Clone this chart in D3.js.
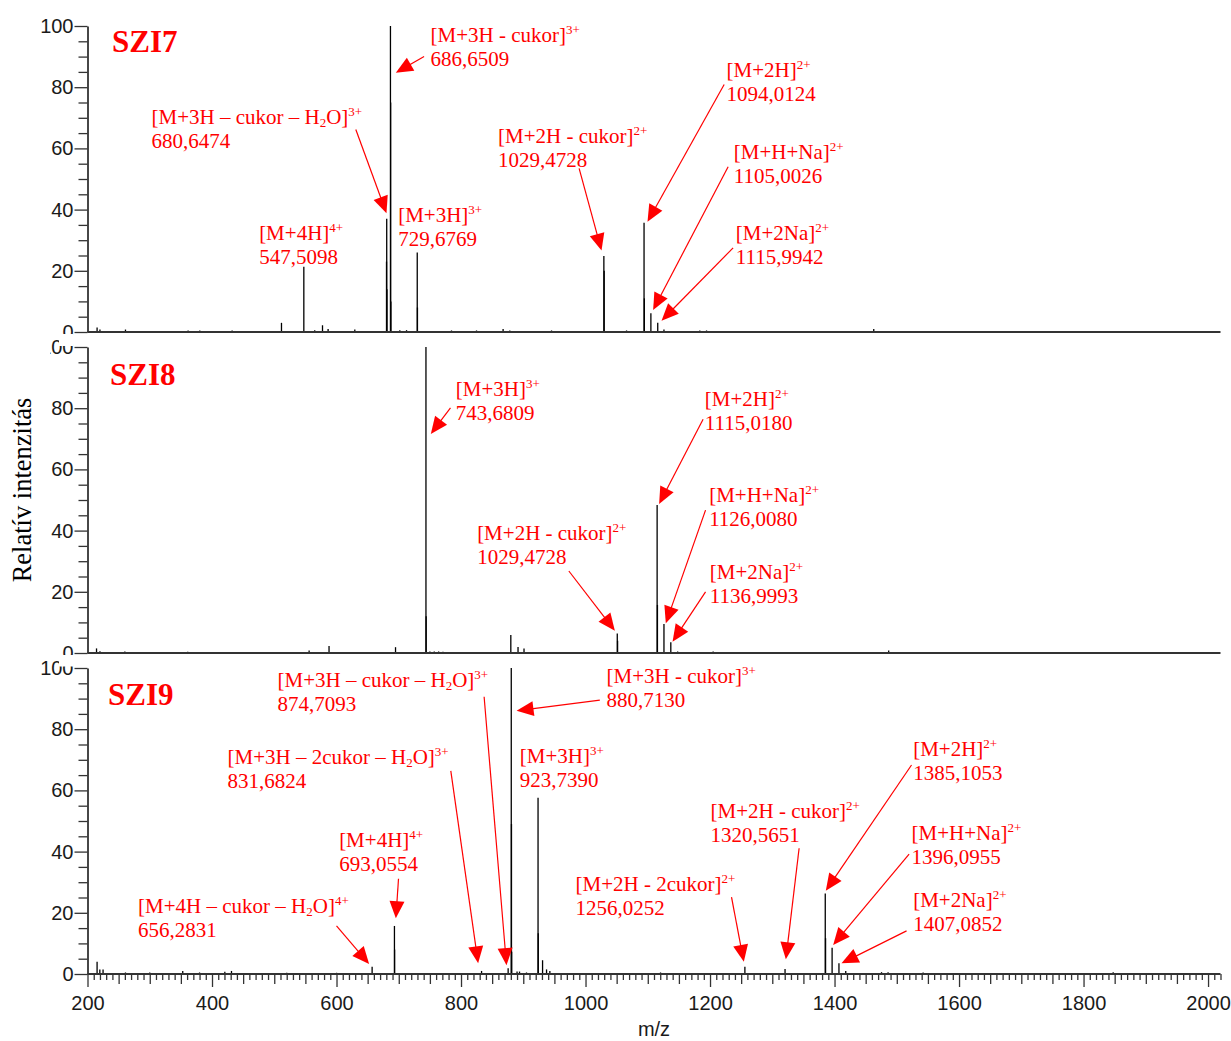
<!DOCTYPE html>
<html>
<head>
<meta charset="utf-8">
<script src="https://cdn.jsdelivr.net/npm/d3@7"></script>
<style>
  body { margin: 0; background: #fff; }
  svg { display: block; }
</style>
</head>
<body>
<svg id="chart"></svg>
<script>
// ---- spectra: m/z and relative intensity (%) of the sticks ----
const mzSZI7 = [215.4, 220, 261, 361.6, 380.4, 432.3, 511.6, 547.5, 565, 577.5, 586.5, 629.4,
  680.32, 680.65, 680.98, 686.65, 686.98, 687.32, 701.7, 712.5, 729.68, 730.01, 784.7, 824.9,
  867.6, 878.4, 945.4, 1012, 1029.47, 1029.97, 1065.9, 1094.01, 1094.51, 1105.0, 1116.0, 1126,
  1183.6, 1194.4, 1463];
const intSZI7 = [1.5, 0.8, 0.8, 0.5, 0.5, 0.5, 3, 21.3, 0.6, 2.2, 1, 0.8,
  23, 37, 14, 100, 75, 10, 0.6, 0.6, 26, 8, 0.5, 0.5,
  1, 0.5, 0.5, 0.3, 24.8, 20, 0.5, 35.7, 11, 6.1, 3, 0.8,
  0.5, 0.5, 1];

const mzSZI8 = [214.5, 220, 260, 361, 556, 588, 694.8, 743.68, 744.01, 750, 757, 764, 771,
  880, 891.6, 901.2, 948, 1051, 1051.5, 1115.02, 1115.52, 1126.0, 1137.0, 1148, 1205, 1273.6, 1487];
const intSZI8 = [1.5, 0.6, 0.5, 0.4, 0.8, 2.3, 1.9, 100, 12, 0.5, 0.5, 0.5, 0.4,
  5.9, 2, 1.5, 0.3, 6.4, 4, 48.4, 15.7, 9.5, 3.5, 0.5, 0.5, 0.3, 0.8];

const mzSZI9 = [215.4, 219.8, 225, 261, 300, 353, 380, 420.6, 431.3, 520, 600, 657.2,
  693.06, 693.31, 768.7, 833, 875.7, 880.71, 881.05, 881.38, 890, 894, 905.2, 923.74, 924.07,
  931, 937.4, 942.7, 1120.5, 1256, 1320.5, 1385.1, 1385.6, 1396.1, 1407.1, 1418, 1475.5, 1486,
  1542.3, 1847.6];
const intSZI9 = [4, 1.5, 1.5, 0.5, 0.5, 1, 0.5, 0.7, 1, 0.4, 0.4, 2.4,
  15.7, 8, 0.3, 1, 1.9, 100, 49, 7.3, 0.8, 0.8, 0.5, 57.6, 13.3,
  4.5, 1.5, 1, 0.5, 2.4, 1.6, 26.3, 11.7, 8.6, 3.5, 1, 0.6, 0.6,
  0.5, 0.6];

// ---- peak annotations (ion, measured m/z) ----
const ionsSZI7 = ["[M+3H - cukor]^{3+}", "[M+3H – cukor – H_{2}O]^{3+}", "[M+4H]^{4+}", "[M+3H]^{3+}",
  "[M+2H - cukor]^{2+}", "[M+2H]^{2+}", "[M+H+Na]^{2+}", "[M+2Na]^{2+}"];
const massSZI7 = ["686,6509", "680,6474", "547,5098", "729,6769", "1029,4728", "1094,0124", "1105,0026", "1115,9942"];

const ionsSZI8 = ["[M+3H]^{3+}", "[M+2H]^{2+}", "[M+H+Na]^{2+}", "[M+2Na]^{2+}", "[M+2H - cukor]^{2+}"];
const massSZI8 = ["743,6809", "1115,0180", "1126,0080", "1136,9993", "1029,4728"];

const ionsSZI9 = ["[M+3H – cukor – H_{2}O]^{3+}", "[M+3H – 2cukor – H_{2}O]^{3+}", "[M+4H]^{4+}",
  "[M+4H – cukor – H_{2}O]^{4+}", "[M+3H - cukor]^{3+}", "[M+3H]^{3+}", "[M+2H - 2cukor]^{2+}",
  "[M+2H - cukor]^{2+}", "[M+2H]^{2+}", "[M+H+Na]^{2+}", "[M+2Na]^{2+}"];
const massSZI9 = ["874,7093", "831,6824", "693,0554", "656,2831", "880,7130", "923,7390", "1256,0252",
  "1320,5651", "1385,1053", "1396,0955", "1407,0852"];

const panelNames = ["SZI7", "SZI8", "SZI9"];
const yTicks = [0, 20, 40, 60, 80, 100];
const xTicks = [200, 400, 600, 800, 1000, 1200, 1400, 1600, 1800, 2000];

// ---- layout of labels in data units: [text m/z, text %, arrow tail m/z, tail %, tip m/z, tip %] ----
const placeSZI7 = [[751.0, 94.9, 740.7, 90.0, 695.3, 84.7], [302.8, 67.9, 631.0, 66.2, 680.3, 38.8],
  [475.7, 30.1], [699.0, 36.0], [859.6, 61.9, 989.7, 53.5, 1025.7, 26.6],
  [1226.5, 83.4, 1222.7, 80.9, 1099.6, 36.0], [1238.2, 56.4, 1229.1, 54.0, 1108.6, 7.2],
  [1241.4, 30.1, 1237.1, 27.5, 1122.1, 3.7]];
const placeSZI8 = [[791.7, 84.0, 783.1, 80.1, 751.5, 71.6], [1191.7, 80.7, 1188.9, 76.4, 1118.2, 48.7],
  [1198.6, 49.4, 1192.8, 46.7, 1129.0, 9.7], [1199.7, 24.1, 1192.8, 20.0, 1139.8, 3.7],
  [825.9, 36.9, 973.2, 26.8, 1047.1, 7.3]];
const placeSZI9 = [[505.2, 93.7, 837.1, 90.6, 873.1, 2.9], [424.9, 68.5, 783.6, 66.4, 827.5, 3.5],
  [604.2, 41.6, 699.6, 31.1, 695.3, 18.2], [281.3, 19.8, 600.0, 15.7, 652.4, 3.3],
  [1033.7, 95.0, 1023.0, 89.5, 889.2, 86.0], [894.5, 68.9], [983.9, 27.2, 1234.5, 25.1, 1254.3, 4.0],
  [1200.8, 50.9, 1343.1, 41.1, 1321.8, 4.8], [1526.3, 71.2, 1523.7, 68.3, 1386.0, 27.2],
  [1523.7, 43.8, 1519.8, 39.2, 1397.8, 9.5], [1526.3, 22.0, 1515.7, 14.1, 1411.2, 3.5]];

const W = 1231, H = 1041;
const RED = "#ff0000";
const AXIS = "#333";
const sans = "'Liberation Sans', Arial, sans-serif";
const serif = "'Liberation Serif', 'Times New Roman', serif";

const panels = [
  { name: panelNames[0], mz: mzSZI7, inten: intSZI7, ions: ionsSZI7, mass: massSZI7, place: placeSZI7,
    base: 332, clip: [0, 0, W, 335], title: [112, 26] },
  { name: panelNames[1], mz: mzSZI8, inten: intSZI8, ions: ionsSZI8, mass: massSZI8, place: placeSZI8,
    base: 653, clip: [0, 340, W, 315], title: [110, 38] },
  { name: panelNames[2], mz: mzSZI9, inten: intSZI9, ions: ionsSZI9, mass: massSZI9, place: placeSZI9,
    base: 974, clip: [0, 655, W, H - 655], title: [108, 37] }
];

const x = d3.scaleLinear().domain([200, 2020]).range([87.5, 1220.5]);
const x0 = x(200);

const svg = d3.select("#chart").attr("width", W).attr("height", H);
const defs = svg.append("defs");

// text with _{sub} and ^{sup} parts
function richText(sel, str, size) {
  const parts = str.split(/(_\{[^}]*\}|\^\{[^}]*\})/).filter(s => s);
  let shift = 0;
  parts.forEach(p => {
    let target = 0, fs = size, t = p;
    if (p.startsWith("_{")) { target = 3; fs = 13; t = p.slice(2, -1); }
    else if (p.startsWith("^{")) { target = -8; fs = 13; t = p.slice(2, -1); }
    sel.append("tspan").attr("dy", target - shift).attr("font-size", fs).text(t);
    shift = target;
  });
}

function arrow(g, xa, ya, xb, yb) {
  const dx = xb - xa, dy = yb - ya, L = Math.hypot(dx, dy);
  const ux = dx / L, uy = dy / L;
  const hl = 17, hw = 7.5;
  const bx = xb - ux * hl, by = yb - uy * hl;
  g.append("line")
    .attr("x1", xa).attr("y1", ya)
    .attr("x2", bx + ux * 2).attr("y2", by + uy * 2)
    .attr("stroke", RED).attr("stroke-width", 1.2);
  g.append("path")
    .attr("d", `M${xb},${yb}L${bx - uy * hw},${by + ux * hw}L${bx + uy * hw},${by - ux * hw}Z`)
    .attr("fill", RED);
}

panels.forEach((p, i) => {
  const y = d3.scaleLinear().domain([0, 100]).range([p.base, p.base - 306]);

  defs.append("clipPath").attr("id", "clip" + i)
    .append("rect")
    .attr("x", p.clip[0]).attr("y", p.clip[1])
    .attr("width", p.clip[2]).attr("height", p.clip[3]);

  const g = svg.append("g").attr("clip-path", `url(#clip${i})`);

  // sticks
  g.append("g")
    .selectAll("line")
    .data(d3.zip(p.mz, p.inten))
    .join("line")
    .attr("x1", d => x(d[0])).attr("x2", d => x(d[0]))
    .attr("y1", y(0)).attr("y2", d => y(d[1]))
    .attr("stroke", "#000")
    .attr("stroke-width", 1.3);

  // y axis: minor ticks every 5, major every 20
  g.append("g")
    .attr("transform", `translate(${x0},0)`)
    .call(d3.axisLeft(y).tickValues(d3.range(0, 101, 5).filter(v => v % 20)).tickSize(9).tickFormat(""))
    .call(s => s.select(".domain").remove())
    .call(s => s.selectAll("line").attr("stroke", AXIS).attr("stroke-width", 1.3));

  const yAx = g.append("g")
    .attr("transform", `translate(${x0},0)`)
    .call(d3.axisLeft(y).tickValues(yTicks).tickSize(13).tickSizeOuter(0).tickPadding(1));
  yAx.select(".domain").attr("stroke", AXIS).attr("stroke-width", 1.8);
  yAx.selectAll("line").attr("stroke", AXIS).attr("stroke-width", 1.3);
  yAx.selectAll("text").attr("font-family", sans).attr("font-size", 20).attr("fill", "#1a1a1a");

  // baseline
  g.append("line")
    .attr("x1", x0).attr("x2", x(2020))
    .attr("y1", y(0)).attr("y2", y(0))
    .attr("stroke", AXIS).attr("stroke-width", 1.8);

  // panel name
  g.append("text")
    .attr("x", p.title[0]).attr("y", y(100) + p.title[1])
    .attr("font-family", serif).attr("font-weight", "bold").attr("font-size", 31)
    .attr("fill", RED)
    .text(p.name);

  // annotations
  const ag = g.append("g").attr("font-family", serif).attr("fill", RED);
  p.ions.forEach((ion, k) => {
    const pl = p.place[k];
    const tx = x(pl[0]), ty = y(pl[1]);
    richText(ag.append("text").attr("x", tx).attr("y", ty), ion, 21);
    ag.append("text").attr("x", tx).attr("y", ty + 24).attr("font-size", 21).text(p.mass[k]);
    if (pl.length > 2) arrow(ag, x(pl[2]), y(pl[3]), x(pl[4]), y(pl[5]));
  });

  // bottom panel carries the m/z axis
  if (i === panels.length - 1) {
    const xa = g.append("g").attr("transform", `translate(0,${y(0)})`);
    const tens = d3.range(200, 2021, 10).filter(v => v % 50);
    const fifties = d3.range(200, 2021, 50).filter(v => v % 200);
    xa.append("g").call(d3.axisBottom(x).tickValues(tens).tickSize(6).tickFormat(""));
    xa.append("g").call(d3.axisBottom(x).tickValues(fifties).tickSize(10).tickFormat(""));
    xa.append("g").call(d3.axisBottom(x).tickValues(xTicks).tickSize(13).tickPadding(9).tickFormat(d3.format("d")));
    xa.selectAll(".domain").remove();
    xa.selectAll("line").attr("stroke", AXIS).attr("stroke-width", 1.3);
    xa.selectAll("text").attr("font-family", sans).attr("font-size", 20).attr("fill", "#1a1a1a");
  }
});

// pieces of the stacked panels hide parts of the "100" labels
svg.append("rect").attr("x", 34).attr("y", 334).attr("width", 16).attr("height", 26).attr("fill", "#fff");
svg.append("rect").attr("x", 59).attr("y", 334).attr("width", 14).attr("height", 12).attr("fill", "#fff");
svg.append("rect").attr("x", 59).attr("y", 655).attr("width", 14).attr("height", 11.5).attr("fill", "#fff");

// axis titles
svg.append("text")
  .attr("transform", "translate(31,490) rotate(-90)")
  .attr("text-anchor", "middle")
  .attr("font-family", serif).attr("font-size", 26.5).attr("fill", "#000")
  .text("Relatív intenzitás");

svg.append("text")
  .attr("x", 654).attr("y", 1036)
  .attr("text-anchor", "middle")
  .attr("font-family", sans).attr("font-size", 20).attr("fill", "#1a1a1a")
  .text("m/z");
</script>
</body>
</html>
